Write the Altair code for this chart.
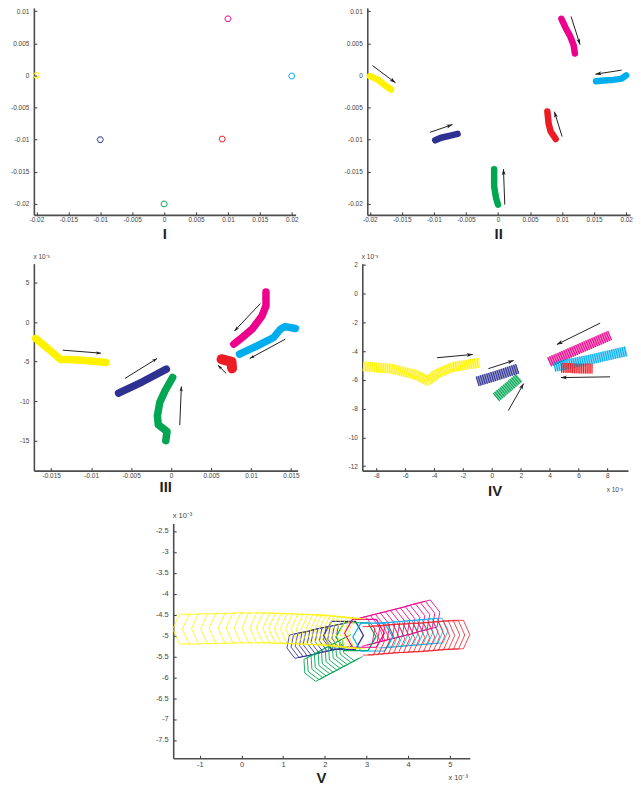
import math
import altair as alt
import pandas as pd

# ---------------- colours ----------------
SERIES = ["yellow", "magenta", "cyan", "navy", "red", "green"]
PALETTE = ["#FFF200", "#EC008C", "#00AEEF", "#2E3192", "#ED1C24", "#00A651"]
COLOR = dict(zip(SERIES, PALETTE))

# ---------------- tick labels ----------------
ticks_x_12 = [-0.02, -0.015, -0.01, -0.005, 0, 0.005, 0.01, 0.015, 0.02]
ticks_y_12 = [0.01, 0.005, 0, -0.005, -0.01, -0.015, -0.02]
ticks_x_3 = [-0.015, -0.01, -0.005, 0, 0.005, 0.01, 0.015]
ticks_y_3 = [5, 0, -5, -10, -15]
ticks_x_4 = [-8, -6, -4, -2, 0, 2, 4, 6, 8]
ticks_y_4 = [2, 0, -2, -4, -6, -8, -10, -12]
ticks_x_5 = [-1, 0, 1, 2, 3, 4, 5]
ticks_y_5 = [-2.5, -3, -3.5, -4, -4.5, -5, -5.5, -6, -6.5, -7, -7.5]

# ---------------- panel I : start polygons ----------------
p1_yellow = [(-0.0200, 0.0000)]
p1_magenta = [(0.0100, 0.0088)]
p1_cyan = [(0.0200, -0.0001)]
p1_navy = [(-0.0100, -0.0100)]
p1_red = [(0.0091, -0.0099)]
p1_green = [(0.0000, -0.0200)]

# ---------------- panel II : paths ----------------
p2_yellow = [(-0.0200, -0.0001), (-0.0187, -0.0007), (-0.0177, -0.0015), (-0.0167, -0.0022)]
p2_magenta = [(0.0099, 0.0088), (0.0105, 0.0075), (0.0113, 0.0060), (0.0118, 0.0047), (0.0120, 0.0034)]
p2_cyan = [(0.0200, 0.0000), (0.0193, -0.0005), (0.0180, -0.0007), (0.0165, -0.0008), (0.0153, -0.0009)]
p2_navy = [(-0.0098, -0.0101), (-0.0089, -0.0097), (-0.0076, -0.0094), (-0.0063, -0.0091)]
p2_red = [(0.0077, -0.0056), (0.0079, -0.0075), (0.0082, -0.0087), (0.0090, -0.0099)]
p2_green = [(-0.0006, -0.0146), (-0.0006, -0.0173), (-0.0003, -0.0191), (0.0000, -0.0201)]
p2_arrows = [(-0.0196, 0.00153, -0.0160, -0.00115),
             (0.0114, 0.00917, 0.0128, 0.00478),
             (0.0193, 0.00081, 0.0152, 0.00019),
             (0.0100, -0.00952, 0.0088, -0.00565),
             (-0.0106, -0.00885, -0.0071, -0.00766),
             (0.00106, -0.0201, 0.00085, -0.01458)]

# ---------------- panel III : paths (y in 1e-3) ----------------
p3_yellow = [(-0.01696, -2.07), (-0.01542, -3.34), (-0.01420, -4.40), (-0.01380, -4.75),
             (-0.01300, -4.72), (-0.01147, -4.80), (-0.00980, -4.95), (-0.00814, -5.10)]
p3_navy = [(-0.00657, -8.98), (-0.00358, -7.55), (-0.00059, -5.95)]
p3_green = [(0.00020, -7.00), (-0.00075, -8.69), (-0.00141, -10.16), (-0.00171, -11.85),
            (-0.00160, -13.00), (-0.00050, -13.85), (-0.00066, -15.00)]
p3_red = [(0.00632, -4.69), (0.00757, -5.03), (0.00764, -5.86)]
p3_magenta = [(0.01188, 3.81), (0.01188, 2.04), (0.01138, 0.78), (0.01014, -0.90),
              (0.00889, -1.95), (0.00786, -2.79)]
p3_cyan = [(0.00857, -4.06), (0.01097, -2.92), (0.01284, -1.95), (0.01368, -0.90),
           (0.01430, -0.56), (0.01555, -0.81)]
p3_arrows = [(-0.01355, -3.55, -0.00877, -3.93),
             (-0.00577, -7.13, -0.00175, -4.60),
             (0.00109, -13.02, 0.00129, -8.14),
             (0.00689, -6.49, 0.00586, -5.45),
             (0.01118, 2.35, 0.00794, -1.11),
             (0.01430, -2.16, 0.00985, -4.60)]

# ---------------- panel IV : paths (1e-3) ----------------
p4_yellow = [(-8.92, -5.06), (-6.96, -5.22), (-5.24, -5.66), (-4.43, -6.07), (-3.86, -5.61),
             (-2.70, -5.10), (-0.86, -4.81)]
p4_navy = [(-1.02, -6.12), (0.40, -5.68), (1.79, -5.22)]
p4_green = [(0.29, -7.22), (1.10, -6.53), (1.90, -5.84)]
p4_magenta = [(3.97, -4.76), (5.93, -3.89), (8.19, -2.90)]
p4_cyan = [(4.32, -5.10), (6.85, -4.58), (9.33, -4.00)]
p4_red = [(4.80, -5.15), (5.83, -5.20), (6.97, -5.22)]
p4_arrows = [(-3.79, -4.46, -1.32, -4.23),
             (-0.24, -5.22, 1.51, -4.65),
             (1.14, -8.14, 2.20, -6.26),
             (7.50, -2.05, 4.50, -3.54),
             (8.19, -5.79, 4.78, -5.84)]

# ---------------- panel V : polygon tips (1e-3) ----------------
p5_yellow = [(-1.65, -4.85), (-1.42, -4.85), (-1.20, -4.84), (-0.98, -4.84), (-0.78, -4.83),
             (-0.56, -4.83), (-0.37, -4.82), (-0.18, -4.82), (0.01, -4.82), (0.20, -4.82),
             (0.35, -4.82), (0.51, -4.83), (0.65, -4.83), (0.79, -4.84), (0.93, -4.84),
             (1.06, -4.85), (1.19, -4.85), (1.31, -4.86), (1.43, -4.86), (1.54, -4.87),
             (1.65, -4.87), (1.75, -4.88), (1.85, -4.89), (1.95, -4.90), (2.05, -4.91),
             (2.15, -4.92), (2.25, -4.93), (2.35, -4.94), (2.45, -4.95), (2.55, -4.96)]
p5_red = [(5.48, -4.98), (5.36, -4.99), (5.24, -4.99), (5.12, -5.00), (5.00, -5.01),
          (4.88, -5.02), (4.76, -5.03), (4.64, -5.04), (4.52, -5.05), (4.40, -5.05),
          (4.28, -5.06), (4.16, -5.07), (4.04, -5.07), (3.92, -5.08), (3.80, -5.09),
          (3.68, -5.10), (3.56, -5.11), (3.44, -5.12), (3.32, -5.13)]
p5_magenta = [(4.76, -4.44), (4.64, -4.47), (4.52, -4.50), (4.40, -4.53), (4.28, -4.57),
              (4.16, -4.60), (4.04, -4.63), (3.92, -4.66), (3.80, -4.69), (3.68, -4.72),
              (3.56, -4.75), (3.44, -4.78), (3.32, -4.81), (3.20, -4.84)]
p5_cyan = [(4.96, -4.88), (4.84, -4.89), (4.72, -4.90), (4.60, -4.91), (4.48, -4.92),
           (4.36, -4.93), (4.24, -4.94), (4.12, -4.95), (4.00, -4.96), (3.88, -4.97),
           (3.76, -4.98), (3.64, -4.99)]
p5_navy = [(1.09, -5.30), (1.19, -5.28), (1.29, -5.26), (1.39, -5.24), (1.48, -5.22),
           (1.58, -5.19), (1.67, -5.17), (1.77, -5.15), (1.87, -5.13), (1.97, -5.11),
           (2.07, -5.09), (2.17, -5.07), (2.27, -5.05)]
p5_green = [(1.52, -5.90), (1.60, -5.86), (1.69, -5.81), (1.77, -5.77), (1.86, -5.72),
            (1.94, -5.68), (2.03, -5.63), (2.11, -5.59), (2.20, -5.54), (2.28, -5.50),
            (2.37, -5.45), (2.45, -5.41)]
p5_start = [("navy", 2.45, -5.00), ("green", 2.75, -5.03), ("magenta", 2.95, -4.95),
            ("cyan", 3.15, -5.04)]

# ---------------- shapes ----------------
HEX_SMALL = "M -1 0 L -0.5 -0.87 L 0.5 -0.87 L 1 0 L 0.5 0.87 L -0.5 0.87 Z"
HEX_WIDE = "M -1 0 L -0.6 -0.7 L 0.6 -0.7 L 1 0 L 0.6 0.7 L -0.6 0.7 Z"
CHEV_LEFT = "M 1.2 -1 L 0.45 -1 L 0 0 L 0.45 1 L 1.2 1"
CHEV_RIGHT = "M -1.2 -1 L -0.45 -1 L 0 0 L -0.45 1 L -1.2 1"
HEAD = "M 0 0 L -1 -0.33 L -0.75 0 L -1 0.33 Z"

FONT = "Liberation Sans"
EXP = "x 10⁻³"
LABEL = "'' + datum.value"
COLOR_ENC = alt.Color("series:N", scale=alt.Scale(domain=SERIES, range=PALETTE), legend=None)


def line_df(named):
    rows = []
    for name, pts in named:
        for i, (x, y) in enumerate(pts):
            rows.append(dict(series=name, x=x, y=y, order=i))
    return pd.DataFrame(rows)


def xy(xdom, ydom, xt, yt, fs, w, xexp=False, yexp=False):
    common = dict(tickSize=alt.ExprRef(expr="-3"), labelFontSize=fs,
                  labelFlush=False, labelOverlap=False, labelExpr=LABEL,
                  titleFontSize=fs, titleFontWeight="normal", titleFont=FONT,
                  titleColor="#444444", titleAngle=0)
    ax = dict(common, values=xt, labelPadding=5)
    if xexp:
        ax.update(title=EXP, titleX=w - 22, titleY=19, titleAlign="left", titleBaseline="middle")
    else:
        ax.update(title=None)
    ay = dict(common, values=yt, labelPadding=8)
    if yexp:
        ay.update(title=EXP, titleX=-1, titleY=-4, titleAlign="left", titleBaseline="bottom")
    else:
        ay.update(title=None)
    X = alt.X("x:Q", scale=alt.Scale(domain=xdom, nice=False, zero=False), axis=alt.Axis(**ax))
    Y = alt.Y("y:Q", scale=alt.Scale(domain=ydom, nice=False, zero=False), axis=alt.Axis(**ay))
    return X, Y


def arrows_layers(arrows, xdom, ydom, w, h, X, Y, k=6, sw=1.0):
    sx = w / (xdom[1] - xdom[0])
    sy = h / (ydom[1] - ydom[0])
    shaft, heads = [], []
    for i, (x0, y0, x1, y1) in enumerate(arrows):
        shaft += [dict(a=i, o=0, x=x0, y=y0), dict(a=i, o=1, x=x1, y=y1)]
        ang = math.degrees(math.atan2(-(y1 - y0) * sy, (x1 - x0) * sx)) % 360
        heads.append(dict(x=x1, y=y1, angle=ang))
    s = alt.Chart(pd.DataFrame(shaft)).mark_line(color="#231f20", strokeWidth=sw).encode(
        x=X, y=Y, detail="a:N", order="o:Q")
    hd = alt.Chart(pd.DataFrame(heads)).mark_point(
        shape=HEAD, filled=True, color="#231f20", size=(2 * k) ** 2, opacity=1, strokeWidth=0
    ).encode(x=X, y=Y, angle=alt.Angle("angle:Q", scale=None))
    return [s, hd]


def title(text, off):
    return alt.TitleParams(text=text, orient="bottom", frame="group", offset=off, fontSize=15,
                           font=FONT, fontWeight="bold", anchor="middle", baseline="top",
                           color="#231f20")


# ---------------- panel I ----------------
W1, H1 = 263, 208
xd12, yd12 = [-0.0204, 0.0206], [-0.0217, 0.0105]
X1, Y1 = xy(xd12, yd12, ticks_x_12, ticks_y_12, 6.5, W1)
d1 = line_df([("yellow", p1_yellow), ("magenta", p1_magenta), ("cyan", p1_cyan),
              ("navy", p1_navy), ("red", p1_red), ("green", p1_green)])
panel1 = alt.Chart(d1).mark_point(shape=HEX_SMALL, filled=False, size=40, strokeWidth=1,
                                  opacity=1).encode(x=X1, y=Y1, color=COLOR_ENC
                                  ).properties(width=W1, height=H1, title=title("I", 4))

# ---------------- panel II ----------------
W2, H2 = 264, 208
X2, Y2 = xy(xd12, yd12, ticks_x_12, ticks_y_12, 6.5, W2)
d2 = line_df([("yellow", p2_yellow), ("magenta", p2_magenta), ("cyan", p2_cyan),
              ("navy", p2_navy), ("red", p2_red), ("green", p2_green)])
l2 = alt.Chart(d2).mark_line(strokeWidth=6.5, strokeCap="round", strokeJoin="round").encode(
    x=X2, y=Y2, color=COLOR_ENC, order="order:Q")
panel2 = alt.layer(l2, *arrows_layers(p2_arrows, xd12, yd12, W2, H2, X2, Y2)).properties(
    width=W2, height=H2, title=title("II", 4))

# ---------------- panel III ----------------
W3, H3 = 265, 208
xd3, yd3 = [-0.01717, 0.01584], [-18.8, 7.4]
X3, Y3 = xy(xd3, yd3, ticks_x_3, ticks_y_3, 6.5, W3, yexp=True)
d3 = line_df([("yellow", p3_yellow), ("navy", p3_navy), ("green", p3_green),
              ("magenta", p3_magenta), ("cyan", p3_cyan)])
l3 = alt.Chart(d3).mark_line(strokeWidth=7.5, strokeCap="round", strokeJoin="round").encode(
    x=X3, y=Y3, color=COLOR_ENC, order="order:Q")
r3 = alt.Chart(line_df([("red", p3_red)])).mark_line(
    strokeWidth=10, strokeCap="round", strokeJoin="round").encode(
    x=X3, y=Y3, color=COLOR_ENC, order="order:Q")
panel3 = alt.layer(l3, r3, *arrows_layers(p3_arrows, xd3, yd3, W3, H3, X3, Y3, k=5)).properties(
    width=W3, height=H3, title=title("III", 0.5))

# ---------------- panel IV ----------------
W4, H4 = 267, 208
xd4, yd4 = [-8.97, 9.43], [-12.32, 2.09]
X4, Y4 = xy(xd4, yd4, ticks_x_4, ticks_y_4, 6.5, W4, xexp=True, yexp=True)
d4 = line_df([("yellow", p4_yellow), ("navy", p4_navy), ("green", p4_green),
              ("magenta", p4_magenta), ("cyan", p4_cyan), ("red", p4_red)])
l4a = alt.Chart(d4).mark_line(strokeWidth=10, opacity=0.5, strokeJoin="round").encode(
    x=X4, y=Y4, color=COLOR_ENC, order="order:Q")
l4b = alt.Chart(d4).mark_line(strokeWidth=10, strokeDash=[1, 1.2], strokeJoin="round").encode(
    x=X4, y=Y4, color=COLOR_ENC, order="order:Q")
panel4 = alt.layer(l4a, l4b, *arrows_layers(p4_arrows, xd4, yd4, W4, H4, X4, Y4)).properties(
    width=W4, height=H4, title=title("IV", -9))

# ---------------- panel V ----------------
W5, H5 = 298, 236
xd5, yd5 = [-1.64, 5.48], [-7.94, -2.32]
X5, Y5 = xy(xd5, yd5, ticks_x_5, ticks_y_5, 7.5, W5, xexp=True, yexp=True)


def chev(pts, name, shape, half, angle):
    df = pd.DataFrame([dict(x=x, y=y) for x, y in pts])
    return alt.Chart(df).mark_point(shape=shape, filled=False, size=(2 * half) ** 2,
                                    strokeWidth=0.8, opacity=1, angle=angle,
                                    color=COLOR[name]).encode(x=X5, y=Y5)


start_df = pd.DataFrame([dict(series=s, x=x, y=y) for s, x, y in p5_start])
starts = alt.Chart(start_df).mark_point(shape=HEX_WIDE, filled=False, size=40 ** 2,
                                        strokeWidth=1.2, opacity=1).encode(
    x=X5, y=Y5, color=COLOR_ENC)
panel5 = alt.layer(
    chev(p5_navy, "navy", CHEV_LEFT, 12, 347),
    chev(p5_green, "green", CHEV_LEFT, 12.5, 332),
    chev(p5_magenta, "magenta", CHEV_RIGHT, 14, 346),
    chev(p5_cyan, "cyan", CHEV_RIGHT, 12.5, 358),
    starts,
    chev(p5_red, "red", CHEV_RIGHT, 14.3, 0),
    chev(p5_yellow, "yellow", CHEV_LEFT, 15, 0),
).properties(width=W5, height=H5, title=title("V", -9.5))

spacer = alt.Chart(pd.DataFrame({"v": [0]})).mark_point(opacity=0).encode(
    x=alt.X("v:Q", axis=None), y=alt.Y("v:Q", axis=None)).properties(width=130, height=H5)

row1 = alt.hconcat(panel1, panel2, spacing=72, bounds="flush")
row2 = alt.hconcat(panel3, panel4, spacing=65, bounds="flush")
row3 = alt.hconcat(spacer, panel5, spacing=10, bounds="flush")

chart = alt.vconcat(row1, alt.vconcat(row2, row3, spacing=11), spacing=10).properties(
    padding={"left": 2, "top": -3, "right": 0, "bottom": 0}
).configure_view(stroke="transparent").configure_axis(
    labelFont=FONT, labelColor="#444444", domainColor="#4d4d4d", domainWidth=1.6,
    tickColor="#333333", tickWidth=1, grid=False
)

chart.save("out.html", embed_options={"renderer": "svg", "actions": False})
